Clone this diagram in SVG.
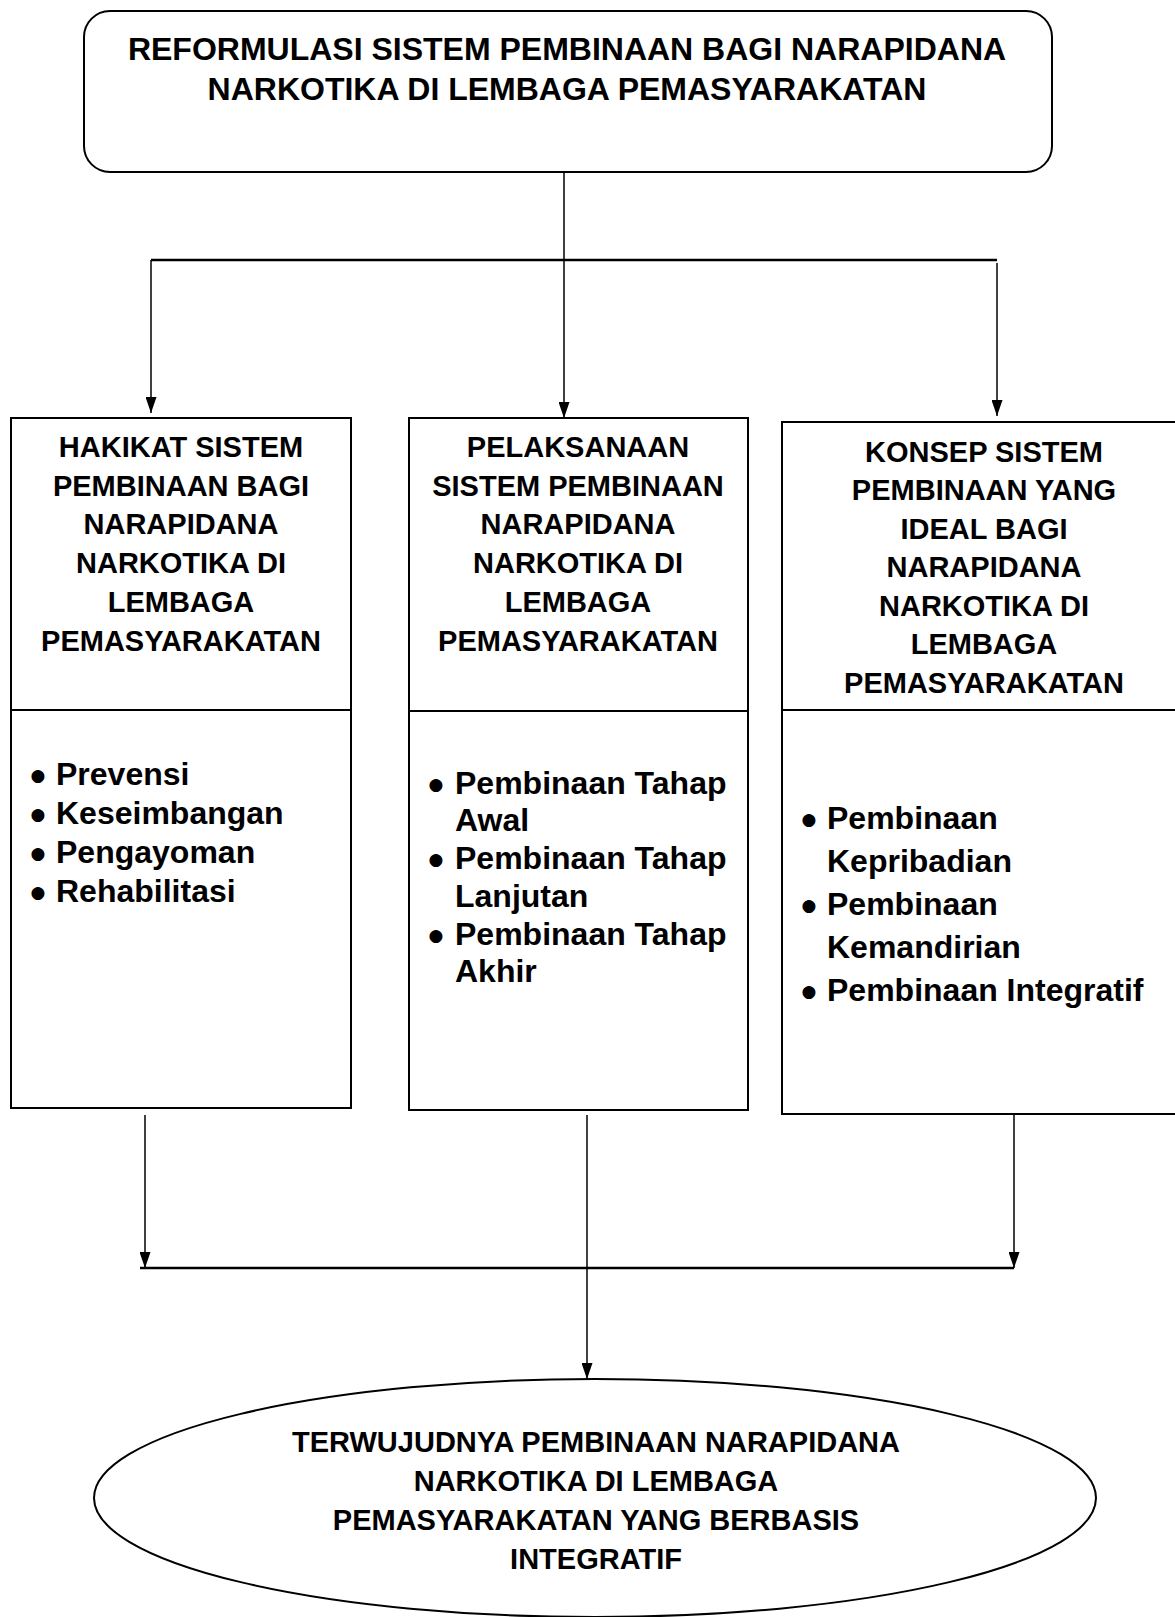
<svg xmlns="http://www.w3.org/2000/svg" width="1175" height="1617" viewBox="0 0 1175 1617">
<style>
text{font-family:"Liberation Sans",Arial,sans-serif;font-weight:bold;fill:#000}
.t{font-size:32px;text-anchor:middle}
.h{font-size:29px;text-anchor:middle}
.b{font-size:32px}
.bu{font-family:"DejaVu Sans",sans-serif;font-weight:normal;font-size:17px;text-anchor:middle}
.box{fill:#fff;stroke:#000;stroke-width:2}
.v{stroke:#000;stroke-width:1.5;fill:none}
.hz{stroke:#000;stroke-width:2.5;fill:none}
.arr{marker-end:url(#ah)}
</style>
<defs>
<marker id="ah" markerUnits="userSpaceOnUse" markerWidth="16" markerHeight="11" refX="16" refY="5.5" orient="auto" viewBox="0 0 16 11">
<path d="M0,0 L16,5.5 L0,11 Z" fill="#000"/>
</marker>
</defs>
<g id="connectors">
<line class="v arr" x1="564" y1="172" x2="564" y2="418"/>
<line class="hz" x1="151" y1="260" x2="997" y2="260"/>
<line class="v arr" x1="151" y1="260" x2="151" y2="413"/>
<line class="v arr" x1="997" y1="263" x2="997" y2="416"/>
<line class="v arr" x1="145" y1="1115" x2="145" y2="1268"/>
<line class="v arr" x1="1014" y1="1115" x2="1014" y2="1268"/>
<line class="hz" x1="140" y1="1268" x2="1014" y2="1268"/>
<line class="v arr" x1="587" y1="1115" x2="587" y2="1379"/>
</g>
<g id="top">
<rect class="box" x="84" y="11" width="968" height="161" rx="26"/>
<text class="t" x="567" y="60">REFORMULASI SISTEM PEMBINAAN BAGI NARAPIDANA</text>
<text class="t" x="567" y="100">NARKOTIKA DI LEMBAGA PEMASYARAKATAN</text>
</g>
<g id="hakikat">
<rect class="box" x="11" y="418" width="340" height="690"/>
<line class="v" x1="11" y1="710" x2="351" y2="710" style="stroke-width:2"/>
<text class="h" x="181" y="457">HAKIKAT SISTEM</text>
<text class="h" x="181" y="496">PEMBINAAN BAGI</text>
<text class="h" x="181" y="534">NARAPIDANA</text>
<text class="h" x="181" y="573">NARKOTIKA DI</text>
<text class="h" x="181" y="612">LEMBAGA</text>
<text class="h" x="181" y="651">PEMASYARAKATAN</text>
<text class="bu" x="38" y="781">●</text><text class="b" x="56" y="785">Prevensi</text>
<text class="bu" x="38" y="820">●</text><text class="b" x="56" y="824">Keseimbangan</text>
<text class="bu" x="38" y="859">●</text><text class="b" x="56" y="863">Pengayoman</text>
<text class="bu" x="38" y="898">●</text><text class="b" x="56" y="902">Rehabilitasi</text>
</g>
<g id="pelaksanaan">
<rect class="box" x="409" y="418" width="339" height="692"/>
<line class="v" x1="409" y1="711" x2="748" y2="711" style="stroke-width:2"/>
<text class="h" x="578" y="457">PELAKSANAAN</text>
<text class="h" x="578" y="496">SISTEM PEMBINAAN</text>
<text class="h" x="578" y="534">NARAPIDANA</text>
<text class="h" x="578" y="573">NARKOTIKA DI</text>
<text class="h" x="578" y="612">LEMBAGA</text>
<text class="h" x="578" y="651">PEMASYARAKATAN</text>
<text class="bu" x="436" y="790">●</text><text class="b" x="455" y="794">Pembinaan Tahap</text>
<text class="b" x="455" y="831">Awal</text>
<text class="bu" x="436" y="865">●</text><text class="b" x="455" y="869">Pembinaan Tahap</text>
<text class="b" x="455" y="907">Lanjutan</text>
<text class="bu" x="436" y="941">●</text><text class="b" x="455" y="945">Pembinaan Tahap</text>
<text class="b" x="455" y="982">Akhir</text>
</g>
<g id="konsep">
<rect class="box" x="782" y="422" width="420" height="692"/>
<line class="v" x1="782" y1="710" x2="1175" y2="710" style="stroke-width:2"/>
<text class="h" x="984" y="462">KONSEP SISTEM</text>
<text class="h" x="984" y="500">PEMBINAAN YANG</text>
<text class="h" x="984" y="539">IDEAL BAGI</text>
<text class="h" x="984" y="577">NARAPIDANA</text>
<text class="h" x="984" y="616">NARKOTIKA DI</text>
<text class="h" x="984" y="654">LEMBAGA</text>
<text class="h" x="984" y="693">PEMASYARAKATAN</text>
<text class="bu" x="809" y="825">●</text><text class="b" x="827" y="829">Pembinaan</text>
<text class="b" x="827" y="872">Kepribadian</text>
<text class="bu" x="809" y="911">●</text><text class="b" x="827" y="915">Pembinaan</text>
<text class="b" x="827" y="958">Kemandirian</text>
<text class="bu" x="809" y="997">●</text><text class="b" x="827" y="1001">Pembinaan Integratif</text>
</g>
<g id="hasil">
<ellipse class="box" cx="595" cy="1498" rx="501" ry="119"/>
<text class="h" x="596" y="1452">TERWUJUDNYA PEMBINAAN NARAPIDANA</text>
<text class="h" x="596" y="1491">NARKOTIKA DI LEMBAGA</text>
<text class="h" x="596" y="1530">PEMASYARAKATAN YANG BERBASIS</text>
<text class="h" x="596" y="1569">INTEGRATIF</text>
</g>
</svg>
